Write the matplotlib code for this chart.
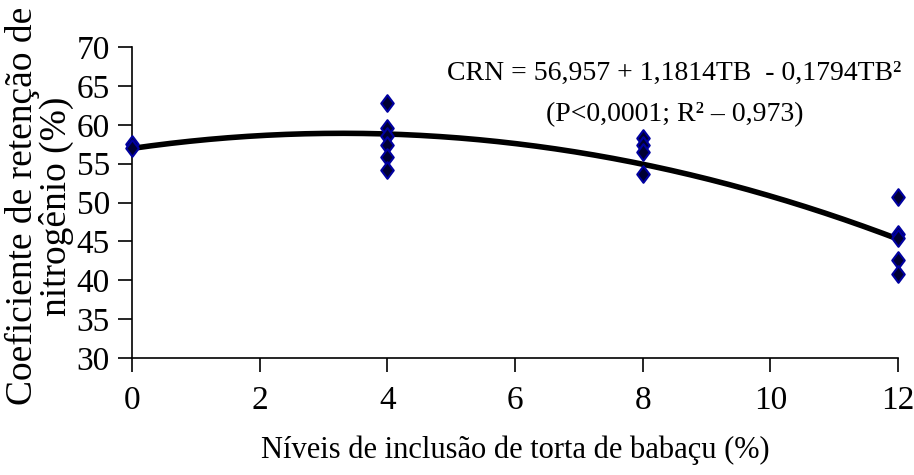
import numpy as np
import matplotlib
matplotlib.use('Agg')
import matplotlib.pyplot as plt
from matplotlib.path import Path

level_0 = [57.5, 57.0]
level_4 = [62.8, 59.6, 58.6, 57.4, 55.8, 54.2]
level_8 = [58.3, 57.4, 56.5, 53.7]
level_12 = [50.7, 46.0, 45.4, 42.6, 40.8]
levels = [0, 4, 8, 12]

# Regression coefficients
b0, b1, b2 = 56.957, 1.1814, -0.1794

x_ticks = [0, 2, 4, 6, 8, 10, 12]
y_ticks = [30, 35, 40, 45, 50, 55, 60, 65, 70]

plt.rcParams['font.family'] = ['Liberation Serif', 'DejaVu Serif']

# Excel-like diamond, a bit taller than wide
diamond = Path([(0, 1), (0.75, 0), (0, -1), (-0.75, 0), (0, 1)],
               [Path.MOVETO, Path.LINETO, Path.LINETO, Path.LINETO, Path.CLOSEPOLY])

fig = plt.figure(figsize=(9.14, 4.75), dpi=100)
ax = fig.add_axes([0.1444, 0.2463, 0.8381, 0.6547])

# Fitted curve
tb = np.linspace(0, 12, 200)
ax.plot(tb, b0 + b1 * tb + b2 * tb ** 2, color='black', lw=4, zorder=2)

# Points
for lev, vals in zip(levels, [level_0, level_4, level_8, level_12]):
    ax.plot([lev] * len(vals), vals, linestyle='none', marker=diamond, markersize=12,
            markerfacecolor='#000033', markeredgecolor='#0000a0', markeredgewidth=1.5,
            zorder=3, clip_on=False)

ax.set_xlim(0, 12)
ax.set_ylim(30, 70)
ax.set_xticks(x_ticks)
ax.set_yticks(y_ticks)
ax.tick_params(axis='both', direction='out', length=10, width=1.2, labelsize=24)
ax.tick_params(axis='x', pad=10)
ax.tick_params(axis='y', pad=6)

ax.spines['top'].set_visible(False)
ax.spines['right'].set_visible(False)
ax.spines['left'].set_linewidth(1.2)
ax.spines['bottom'].set_linewidth(1.2)

ax.set_xlabel('Níveis de inclusão de torta de babaçu (%)', fontsize=22, labelpad=14)
fig.text(0.043, 0.566, 'Coeficiente de retenção de\nnitrogênio (%)', rotation=90,
         ha='center', va='center', fontsize=27, linespacing=0.95, multialignment='center')

fig.text(0.738, 0.846, 'CRN = 56,957 + 1,1814TB  - 0,1794TB²',
         ha='center', va='center', fontsize=20)
fig.text(0.738, 0.758, '(P<0,0001; R² – 0,973)',
         ha='center', va='center', fontsize=20)

fig.savefig('out.png', dpi=100)
